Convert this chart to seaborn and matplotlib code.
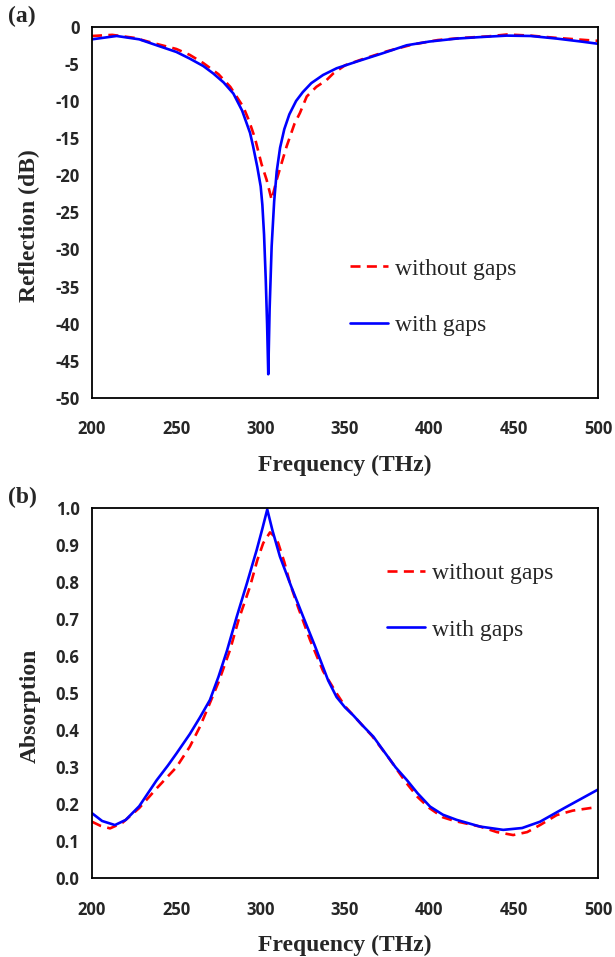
import numpy as np
import pandas as pd
import seaborn as sns
import matplotlib.pyplot as plt

# (a) reflection, dB
freq_a_no = [200, 212, 225, 238, 250, 258, 266, 275, 282, 289.7, 293, 296.6, 300.5, 303.5, 306.5, 309.5,
             312.5, 315.4, 317.4, 320, 323.3, 327.3, 333, 339, 343, 350, 360, 375, 390, 405, 420, 435, 446, 460, 475, 493, 500]
refl_no = [-1.25, -1.1, -1.5, -2.3, -3.0, -3.8, -4.9, -6.4, -8.1, -10.8, -12.6, -15.0, -18.5, -20.6, -23.3, -20.6,
           -18.3, -16.1, -14.8, -13.1, -11.6, -9.4, -8.1, -7.2, -6.3, -5.2, -4.4, -3.3, -2.4, -1.8, -1.5, -1.3, -1.05, -1.2, -1.5, -1.8, -1.9]

freq_a_gap = [200, 214.6, 228, 238.3, 250, 258, 266, 271.9, 278, 283.8, 289, 293.7, 295.5, 298, 300, 301, 302, 303,
              303.8, 304.5, 305.3, 306.5, 308, 309.5, 311.5, 314, 317, 321, 325, 330, 337, 345, 356.9, 372,
              386.6, 400, 416.2, 430, 445.8, 460, 475.5, 490, 500]
refl_gap = [-1.7, -1.25, -1.7, -2.5, -3.4, -4.3, -5.3, -6.3, -7.5, -9.0, -11.3, -14.3, -16.1, -18.9, -21.5, -24.0, -28.0, -34.0,
            -40.0, -46.8, -38.0, -29.6, -23.5, -19.5, -16.3, -13.8, -11.8, -10.0, -8.8, -7.6, -6.5, -5.6, -4.7, -3.6,
            -2.5, -2.0, -1.6, -1.4, -1.2, -1.25, -1.6, -2.0, -2.3]

# (b) absorption
freq_b_no = [200, 205, 210.7, 218, 228, 238.3, 250, 258, 264, 269, 275, 281.8, 287, 293.7, 298, 301.5, 305.5, 308,
             310.4, 314, 317.4, 322, 329.3, 337, 345, 350, 357, 366, 376, 386, 393, 400, 408, 415, 430, 440, 449.7,
             458, 466, 475.5, 485, 500]
abs_no = [0.153, 0.142, 0.135, 0.15, 0.19, 0.243, 0.3, 0.356, 0.41, 0.464, 0.53, 0.617, 0.7, 0.789, 0.86, 0.906, 0.935, 0.925,
          0.906, 0.855, 0.797, 0.735, 0.644, 0.56, 0.5, 0.465, 0.43, 0.385, 0.325, 0.26, 0.22, 0.19, 0.165, 0.155, 0.14,
          0.125, 0.117, 0.125, 0.145, 0.171, 0.183, 0.193]

freq_b_gap = [200, 206, 213.6, 220, 228, 238.3, 245, 250, 258, 264, 269.9, 275, 280, 285.8, 292, 297.6, 301, 303.9,
              307, 311.4, 318, 325.2, 332, 340, 345, 350, 355, 360, 366.8, 372, 380, 386.6, 393, 400.4, 408, 416.2,
              430, 443.8, 455, 465.6, 480, 490, 500]
abs_gap = [0.176, 0.155, 0.144, 0.158, 0.195, 0.265, 0.305, 0.337, 0.39, 0.435, 0.482, 0.545, 0.615, 0.707, 0.8, 0.887, 0.945,
           0.997, 0.94, 0.87, 0.79, 0.707, 0.63, 0.535, 0.49, 0.462, 0.44, 0.415, 0.383, 0.35, 0.3, 0.266, 0.23, 0.194,
           0.172, 0.158, 0.14, 0.131, 0.136, 0.153, 0.19, 0.215, 0.24]

sns.set_style("white")
plt.rcParams["font.family"] = ["Liberation Serif", "DejaVu Serif"]

fig = plt.figure(figsize=(6.15, 9.57), dpi=100)
axa = fig.add_axes([0.1496, 0.5841, 0.8228, 0.388])
axb = fig.add_axes([0.1496, 0.0822, 0.8228, 0.3866])

dfa_no = pd.DataFrame({"f": freq_a_no, "v": refl_no})
dfa_gap = pd.DataFrame({"f": freq_a_gap, "v": refl_gap})
dfb_no = pd.DataFrame({"f": freq_b_no, "v": abs_no})
dfb_gap = pd.DataFrame({"f": freq_b_gap, "v": abs_gap})

tickfont = dict(family=["Open Sans", "DejaVu Sans"], weight="bold", size=12)

panels = [
    (axa, dfa_no, dfa_gap, "Reflection (dB)", (-50, 0), np.arange(-50, 1, 5), "{:.0f}", "(a)", (0.51, 0.377)),
    (axb, dfb_no, dfb_gap, "Absorption", (0, 1), np.arange(0, 1.01, 0.1), "{:.1f}", "(b)", (0.583, 0.853)),
]

for ax, dno, dgap, ylab, yl, yt, yfmt, tag, legpos in panels:
    sns.lineplot(data=dno, x="f", y="v", ax=ax, color="#ff0000", lw=1.9, sort=False,
                 label="without gaps")
    ax.lines[-1].set_dashes([3.8, 2.4])
    sns.lineplot(data=dgap, x="f", y="v", ax=ax, color="#0000ff", lw=1.9, sort=False,
                 label="with gaps")
    ax.set_xlim(200, 500)
    ax.set_ylim(*yl)
    ax.set_xticks(np.arange(200, 501, 50))
    ax.set_yticks(yt)
    ax.set_xticklabels([str(v) for v in range(200, 501, 50)], fontdict=tickfont)
    ax.set_yticklabels([yfmt.format(v) for v in yt], fontdict=tickfont)
    ax.tick_params(direction="out", length=5, width=1.2, color="black")
    ax.tick_params(axis="x", pad=11)
    ax.tick_params(axis="y", pad=4)
    for s in ax.spines.values():
        s.set_color("black")
        s.set_linewidth(1.3)
    ax.set_xlabel("Frequency (THz)", fontsize=17, fontweight="bold", labelpad=12)
    ax.set_ylabel(ylab, fontsize=17, fontweight="bold")
    ax.yaxis.set_label_coords(-0.102, 0.465)
    ax.text(-0.166, 1.0, tag, transform=ax.transAxes, fontsize=17, fontweight="bold",
            ha="left", va="bottom")
    leg = ax.legend(loc="upper left", bbox_to_anchor=legpos, frameon=False, fontsize=17,
                    handlelength=1.6, handletextpad=0.3, labelspacing=1.48,
                    borderpad=0, borderaxespad=0)

fig.savefig("out.png", dpi=100)
